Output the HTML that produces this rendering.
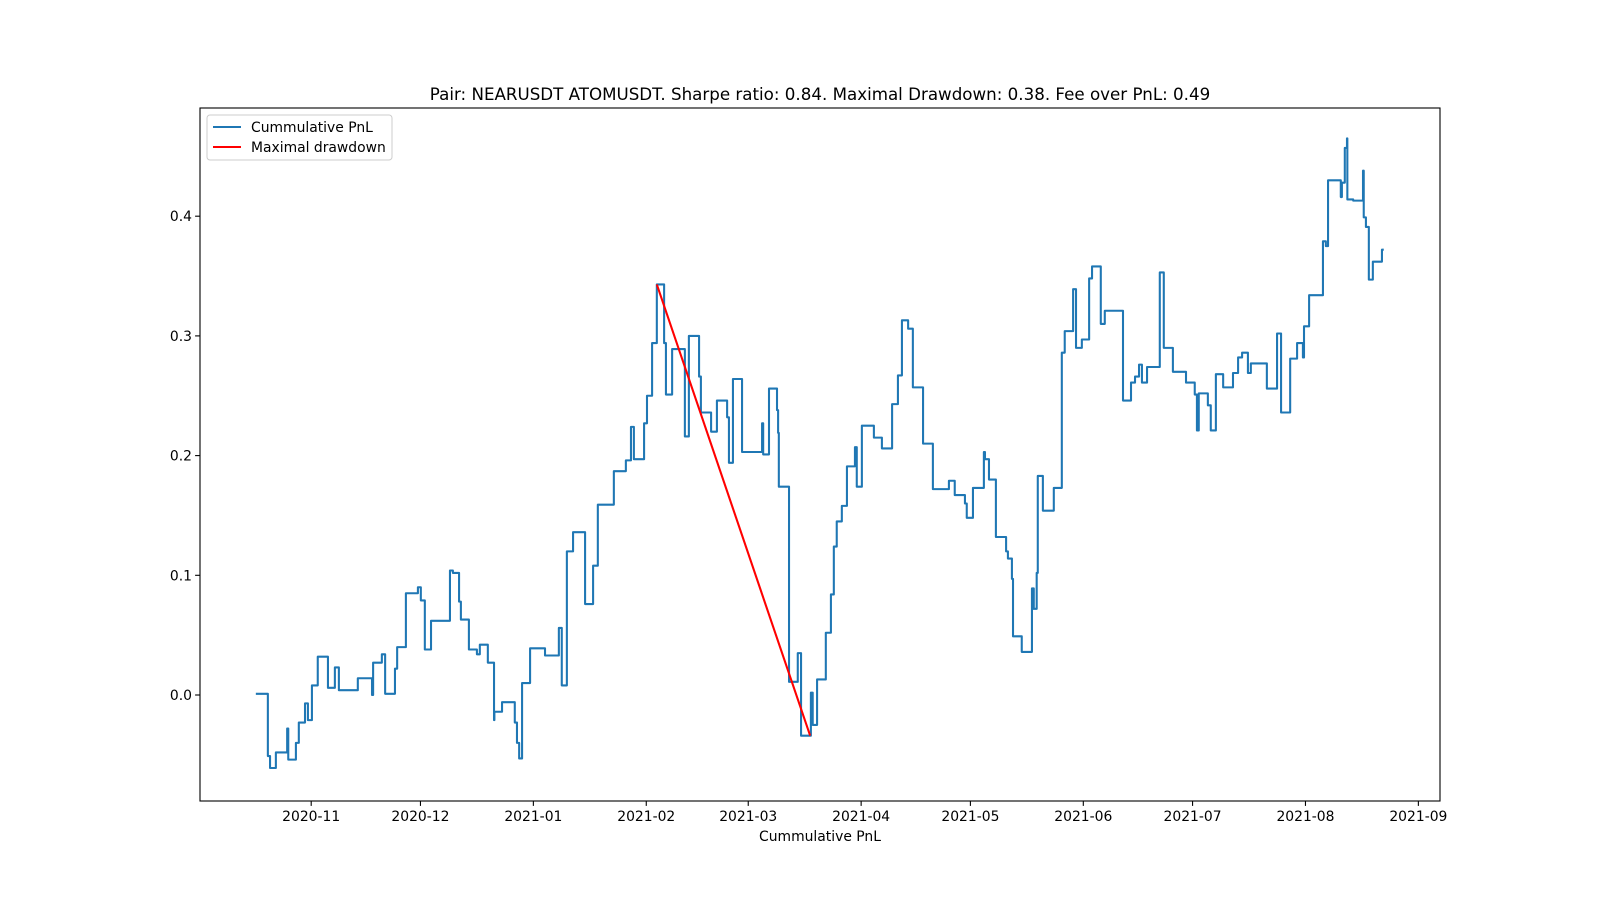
<!DOCTYPE html>
<html><head><meta charset="utf-8"><style>
body{margin:0;background:#fff;}
svg{display:block;font-family:"DejaVu Sans","Liberation Sans",sans-serif;}
</style></head><body>
<svg id="chart" width="1600" height="900" viewBox="0 0 1600 900" xmlns="http://www.w3.org/2000/svg">
<rect width="1600" height="900" fill="#fff"/>
<text x="820" y="100" text-anchor="middle" font-size="16.7">Pair: NEARUSDT ATOMUSDT. Sharpe ratio: 0.84. Maximal Drawdown: 0.38. Fee over PnL: 0.49</text>
<g id="plot"></g>
<rect x="200" y="108" width="1240" height="693" fill="none" stroke="#000" stroke-width="1.1"/>
<g id="xt"></g>
<g id="yt"></g>
<text x="820" y="841" text-anchor="middle" font-size="13.9">Cummulative PnL</text>
<g>
<rect x="207" y="115" width="185" height="45" rx="3" fill="#fff" fill-opacity="0.8" stroke="#ccc"/>
<g><line x1="213" y1="127" x2="241" y2="127" stroke="#1f77b4" stroke-width="2.08"/><text x="251" y="132" font-size="13.9">Cummulative PnL</text></g>
<g><line x1="213" y1="147" x2="241" y2="147" stroke="#ff0000" stroke-width="2.08"/><text x="251" y="152" font-size="13.9">Maximal drawdown</text></g>
</g>
</svg>
<script>
// days since 2020-11-01
const days=[-15.2,-11.9,-11.3,-9.7,-6.6,-6.3,-4.2,-3.4,-1.7,-0.9,0.2,1.8,4.6,6.5,7.6,12.8,16.7,17.0,19.4,20.3,23.0,23.6,26.0,29.3,30.1,31.2,32.9,38.1,38.9,40.6,41.1,43.3,45.5,46.3,48.5,50.2,50.3,52.4,55.9,56.5,57.1,57.9,60.1,64.2,68.0,68.8,70.2,71.9,75.2,77.4,78.7,83.1,86.4,87.8,88.6,91.4,92.2,93.6,94.9,96.9,97.4,99.1,102.6,103.7,106.5,107.0,109.8,111.4,114.2,114.7,115.8,118.3,123.8,124.1,125.7,127.9,128.2,128.4,131.2,133.6,134.5,137.2,137.7,138.9,141.3,142.7,143.5,144.3,145.7,147.1,149.3,149.8,151.2,154.5,156.7,159.5,161.1,162.2,163.9,165.2,168.0,170.7,175.1,176.7,179.5,180.0,181.7,184.7,185.0,186.1,188.0,190.8,191.3,192.4,192.7,195.1,197.9,198.4,199.2,199.5,200.9,203.9,206.1,206.9,209.2,210.0,211.6,213.6,214.4,216.8,217.9,222.9,225.1,226.2,227.3,228.1,229.5,233.0,234.1,236.6,240.2,242.6,243.2,243.7,246.2,247.0,248.4,250.4,253.1,254.5,255.6,257.2,258.0,262.4,265.2,266.3,268.8,270.7,272.3,272.6,274.0,277.8,278.6,279.2,282.7,283.0,283.8,284.4,284.5,286.1,288.8,289.0,289.6,290.4,291.5,294.0];
const pnl=[0.001,-0.051,-0.061,-0.048,-0.028,-0.054,-0.040,-0.023,-0.007,-0.021,0.008,0.032,0.006,0.023,0.004,0.014,0.0,0.027,0.034,0.001,0.022,0.040,0.085,0.090,0.079,0.038,0.062,0.104,0.102,0.078,0.063,0.038,0.034,0.042,0.027,-0.021,-0.014,-0.006,-0.023,-0.040,-0.053,0.010,0.039,0.033,0.056,0.008,0.120,0.136,0.076,0.108,0.159,0.187,0.196,0.224,0.197,0.227,0.250,0.294,0.343,0.294,0.251,0.289,0.216,0.300,0.266,0.236,0.220,0.246,0.232,0.194,0.264,0.203,0.227,0.201,0.256,0.238,0.219,0.174,0.011,0.035,-0.034,0.002,-0.025,0.013,0.052,0.084,0.124,0.145,0.158,0.191,0.207,0.174,0.225,0.215,0.206,0.243,0.267,0.313,0.306,0.257,0.210,0.172,0.179,0.167,0.160,0.148,0.173,0.203,0.197,0.180,0.132,0.120,0.114,0.097,0.049,0.036,0.089,0.072,0.102,0.183,0.154,0.173,0.286,0.304,0.339,0.290,0.297,0.348,0.358,0.310,0.321,0.246,0.261,0.266,0.276,0.261,0.274,0.353,0.290,0.270,0.261,0.251,0.221,0.252,0.242,0.221,0.268,0.257,0.269,0.282,0.286,0.269,0.277,0.256,0.302,0.236,0.281,0.294,0.282,0.308,0.334,0.379,0.375,0.430,0.416,0.428,0.457,0.465,0.414,0.413,0.438,0.399,0.391,0.347,0.362,0.372];
const endDay=294.5;
const ddDays=[94.9,137.0];
const ddVals=[0.343,-0.034];
const xTickLabels=["2020-11","2020-12","2021-01","2021-02","2021-03","2021-04","2021-05","2021-06","2021-07","2021-08","2021-09"];
const xTickDays=[0,30,61,92,120,151,181,212,242,273,304];
const yTickVals=[0.0,0.1,0.2,0.3,0.4];
const yTickLabels=["0.0","0.1","0.2","0.3","0.4"];

const NS="http://www.w3.org/2000/svg";
const X=d=>311.2+3.642*d;
const Y=v=>695-1197*v;
function mk(tag,attrs,parent){const e=document.createElementNS(NS,tag);for(const k in attrs)e.setAttribute(k,attrs[k]);parent.appendChild(e);return e;}
const plot=document.getElementById('plot');
let d="M"+X(days[0])+","+Y(pnl[0]);
for(let i=1;i<days.length;i++){d+=" H"+X(days[i])+" V"+Y(pnl[i]);}
d+=" H"+X(endDay);
const line=mk('path',{d:d,fill:'none',stroke:'#1f77b4','stroke-width':2.08,'stroke-linejoin':'round'},plot);


const dd=mk('line',{x1:X(ddDays[0]),y1:Y(ddVals[0]),x2:X(ddDays[1]),y2:Y(ddVals[1]),stroke:'#ff0000','stroke-width':2.08},plot);


const xt=document.getElementById('xt');
xTickDays.forEach((td,i)=>{const x=X(td);
 const t=mk('line',{x1:x,y1:801,x2:x,y2:805.9,stroke:'#000','stroke-width':1.1},xt);
 
 
 const l=mk('text',{x:x,y:821,'text-anchor':'middle','font-size':13.9},xt);l.textContent=xTickLabels[i];
 
 });
const yt=document.getElementById('yt');
yTickVals.forEach((v,i)=>{const y=Y(v);
 const t=mk('line',{x1:195.1,y1:y,x2:200,y2:y,stroke:'#000','stroke-width':1.1},yt);
 
 
 const l=mk('text',{x:192,y:y+5,'text-anchor':'end','font-size':13.9},yt);l.textContent=yTickLabels[i];
 
 });
</script>
</body></html>
